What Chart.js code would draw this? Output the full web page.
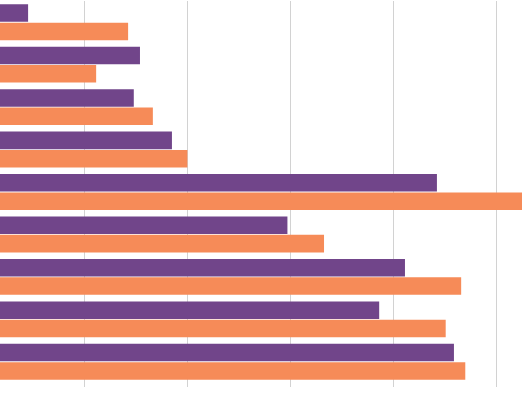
<!DOCTYPE html>
<html>
<head>
<meta charset="utf-8">
<script src="https://cdn.jsdelivr.net/npm/chart.js@4/dist/chart.umd.min.js"></script>
<style>
html,body{margin:0;padding:0;background:#fff;}
#wrap{width:522px;height:393px;position:relative;}
</style>
</head>
<body>
<div id="wrap"><canvas id="c"></canvas></div>
<script>
const categories = ["A","B","C","D","E","F","G","H","I"];
const seriesPurple = [9.1, 30.8, 29.6, 37.0, 88.4, 59.4, 82.2, 77.2, 91.7];
const seriesOrange = [28.5, 22.3, 33.3, 40.0, 105.5, 66.5, 93.1, 90.1, 93.9];
const gridValues = [20, 40, 60, 80, 100];
const axisMin = 3.65;
const axisMax = 104.9;

new Chart(document.getElementById('c'), {
  type: 'bar',
  data: {
    labels: categories,
    datasets: [
      { label: 'Series 1', data: seriesPurple, backgroundColor: '#71458a', borderWidth: 0 },
      { label: 'Series 2', data: seriesOrange, backgroundColor: '#f68b58', borderWidth: 0 }
    ]
  },
  options: {
    indexAxis: 'y',
    responsive: true,
    maintainAspectRatio: false,
    animation: false,
    layout: { padding: { top: 1, bottom: 6, left: 0, right: 0 } },
    datasets: { bar: { categoryPercentage: 0.865, barPercentage: 0.955 } },
    plugins: { legend: { display: false }, tooltip: { enabled: false } },
    scales: {
      x: {
        min: axisMin,
        max: axisMax,
        afterBuildTicks: (s) => { s.ticks = gridValues.map(v => ({ value: v })); },
        ticks: { display: false },
        grid: { color: '#d2d2d2', lineWidth: 1, drawTicks: true, tickLength: 4 },
        border: { display: false }
      },
      y: {
        display: false
      }
    }
  }
});
</script>
</body>
</html>
